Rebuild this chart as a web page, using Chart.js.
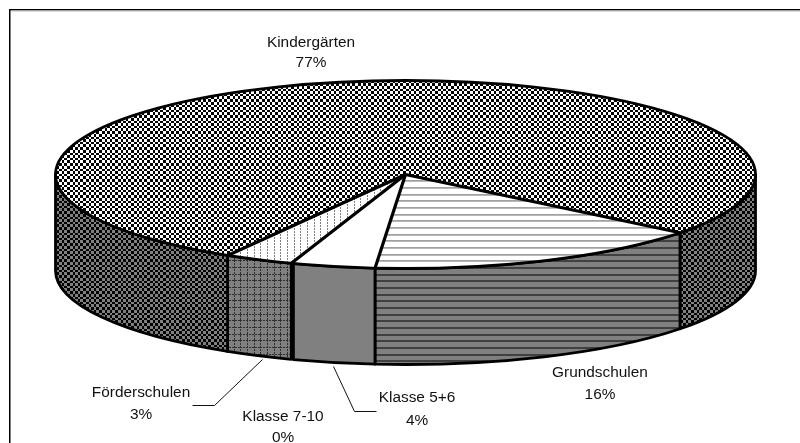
<!DOCTYPE html>
<html><head><meta charset="utf-8">
<style>html,body{margin:0;padding:0;background:#fff}canvas{display:block}</style>
<script src="https://cdn.jsdelivr.net/npm/chart.js@4"></script>
</head><body><canvas id="c" width="800" height="443"></canvas>
<script>
const categories = ['Grundschulen','Klasse 5+6','Klasse 7-10','Förderschulen','Kindergärten'];
const shares = [15.75,3.8,0.1,3.2,77.15];

const CX=405.5, CY=174.5, RX=350, RY=94, DEPTH=96;
const labelAt = [[600,373,395],[417,398,421],[283,417,438],[141,393,415],[311,43,63]];
const leaders = [[[262,359],[214,405],[192,405]],[[333,366],[354,411],[376,411]]];

function makePattern(w,h,fn){
  const p=document.createElement('canvas');p.width=w;p.height=h;
  const g=p.getContext('2d');
  for(let y=0;y<h;y++)for(let x=0;x<w;x++){g.fillStyle=fn(x,y);g.fillRect(x,y,1,1);}
  return g.createPattern(p,'repeat');
}
const cells=[0,0,0,1,1,1,2,2,2,3,3,4,4,4,5,5];
const checker=(a,b)=>makePattern(16,16,(x,y)=>((cells[x]+cells[y])%2?a:b));
const L=[0,7,14];
const onLine=(v,t)=>L.some(l=>v>=l&&v<l+t);
const topFills=[
  makePattern(20,20,(x,y)=>onLine(y,2)?(L.includes(y)?'#a0a0a0':'#b8b8b8'):'#ffffff'),
  '#ffffff','#ffffff',
  makePattern(20,3,(x,y)=>(L.includes(x)&&y<2)?'#808080':'#ffffff'),
  checker('#000000','#ffffff')
];
const wallFills=[
  makePattern(20,20,(x,y)=>onLine(y,2)?'#404040':'#808080'),
  '#808080','#808080',
  makePattern(20,20,(x,y)=>((L.includes(x)&&y%3<2)||(L.includes(y)&&x%3<2))?'#303030':'#808080'),
  checker('#000000','#808080')
];

const pie3d={
  id:'pie3d',
  beforeDatasetsDraw(chart){
    const ctx=chart.ctx, arcs=chart.getDatasetMeta(0).data;
    ctx.save();
    ctx.fillStyle='#000';
    ctx.fillRect(9,9,791,1.5);
    ctx.fillStyle='#c0c0c0';
    ctx.fillRect(10.5,10.5,789.5,1);
    ctx.fillStyle='#000';
    ctx.fillRect(9,9,1.5,434);
    // front wall, one band per slice, clipped to the visible half turn
    const T=Math.PI*2;
    ctx.lineWidth=2.8;ctx.strokeStyle='#000';ctx.lineJoin='round';
    arcs.forEach((a,i)=>{
      for(const k of [-1,0,1]){
        const s=Math.max(a.startAngle+k*T,0), e=Math.min(a.endAngle+k*T,Math.PI);
        if(e-s<0.01)continue;
        ctx.beginPath();
        ctx.ellipse(CX,CY,RX,RY,0,s,e);
        ctx.ellipse(CX,CY+DEPTH,RX,RY,0,e,s,true);
        ctx.closePath();
        ctx.fillStyle=wallFills[i];
        ctx.fill();ctx.stroke();
      }
    });
    ctx.restore();
    // top face: the library's own arcs, squashed to the ellipse
    const a0=arcs[0], sx=RX/a0.outerRadius, sy=RY/a0.outerRadius;
    const m=new DOMMatrix().translate(CX,CY).scale(sx,sy).translate(-a0.x,-a0.y);
    topFills.forEach(f=>{if(f instanceof CanvasPattern)f.setTransform(m.inverse());});
    chart.$m=m;
  },
  beforeDatasetDraw(chart){
    const ctx=chart.ctx,m=chart.$m;
    ctx.save();
    ctx.transform(m.a,m.b,m.c,m.d,m.e,m.f);
  },
  afterDatasetDraw(chart){chart.ctx.restore();},
  afterDatasetsDraw(chart){
    const ctx=chart.ctx, arcs=chart.getDatasetMeta(0).data;
    ctx.save();
    ctx.strokeStyle='#000';ctx.lineWidth=3.2;ctx.lineJoin='miter';
    arcs.forEach((a,i)=>{
      if(i===2)return;
      ctx.beginPath();
      ctx.moveTo(CX,CY);
      ctx.lineTo(CX+RX*Math.cos(a.startAngle),CY+RY*Math.sin(a.startAngle));
      ctx.stroke();
    });
    ctx.lineWidth=2.8;
    ctx.beginPath();ctx.ellipse(CX,CY,RX,RY,0,0,Math.PI*2);ctx.stroke();
    // leaders
    ctx.lineWidth=1;ctx.strokeStyle='#111';
    leaders.forEach(l=>{ctx.beginPath();l.forEach((p,i)=>i?ctx.lineTo(p[0]+.5,p[1]+.5):ctx.moveTo(p[0]+.5,p[1]+.5));ctx.stroke();});
    // labels
    ctx.fillStyle='#111';
    ctx.font='15.4px "Liberation Sans"';
    ctx.textAlign='center';ctx.textBaseline='middle';
    categories.forEach((c,i)=>{
      const p=labelAt[i];
      ctx.fillText(c,p[0],p[1]);
      ctx.fillText(Math.round(shares[i])+'%',p[0],p[2]);
    });
    ctx.restore();
  }
};

new Chart(document.getElementById('c'),{
  type:'pie',
  data:{labels:categories,datasets:[{data:shares,backgroundColor:topFills,borderWidth:0}]},
  options:{
    responsive:false,animation:false,devicePixelRatio:1,rotation:128.3,
    plugins:{legend:{display:false},tooltip:{enabled:false}},
    layout:{padding:10}
  },
  plugins:[pie3d]
});
</script></body></html>
